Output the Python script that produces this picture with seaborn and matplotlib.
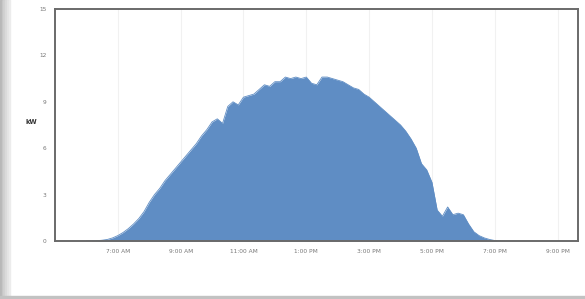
"""Daily solar production curve (kW) as a filled area
"""

import numpy as np
import pandas as pd
import matplotlib
matplotlib.use('Agg')
import matplotlib.pyplot as plt
import seaborn as sns
from matplotlib.patches import Rectangle

# Readings every 10 minutes, starting 6:00 AM
start_hour = 6.0
step_min = 10
kw = [0.0, 0.0, 0.02, 0.05, 0.1, 0.2,
      0.35, 0.55, 0.8, 1.1, 1.45, 1.9,
      2.5, 3.0, 3.4, 3.9, 4.3, 4.7,
      5.1, 5.5, 5.9, 6.3, 6.8, 7.2,
      7.7, 7.9, 7.6, 8.7, 9.0, 8.8,
      9.3, 9.4, 9.5, 9.8, 10.1, 10.0,
      10.3, 10.3, 10.6, 10.5, 10.6, 10.5,
      10.6, 10.2, 10.1, 10.6, 10.6, 10.5,
      10.4, 10.3, 10.1, 9.9, 9.8, 9.5,
      9.3, 9.0, 8.7, 8.4, 8.1, 7.8,
      7.5, 7.1, 6.6, 6.0, 5.0, 4.6,
      3.8, 2.0, 1.6, 2.2, 1.7, 1.8,
      1.7, 1.1, 0.6, 0.35, 0.2, 0.1,
      0.03, 0.0]

tick_hours = [7, 9, 11, 13, 15, 17, 19, 21]
tick_labels = ['7:00 AM', '9:00 AM', '11:00 AM', '1:00 PM',
               '3:00 PM', '5:00 PM', '7:00 PM', '9:00 PM']
y_ticks = [0, 3, 6, 9, 12, 15]

if __name__ == '__main__':

    df = pd.DataFrame({'kw': kw})
    df['hour'] = start_hour + df.index * step_min / 60.

    sns.set_style('white')
    fig = plt.figure(figsize=(5.85, 2.99), dpi=100)

    # Screenshot frame: grey shadow on the left and the bottom
    for i, c in enumerate(['#b8b8b8', '#c4c4c4', '#cfcfcf', '#dadada',
                           '#e4e4e4', '#ececec']):
        fig.patches.append(Rectangle((i * 1.7 / 585, 0), 1.7 / 585, 1,
                                     transform=fig.transFigure,
                                     color=c, zorder=0))
    fig.patches.append(Rectangle((0, 0), 1, 3.5 / 299,
                                 transform=fig.transFigure,
                                 color='#c2c2c2', zorder=0))

    ax = fig.add_axes([55 / 585, 58 / 299, 523 / 585, 232 / 299])

    color = '#5f8dc4'
    ax.fill_between(df['hour'], df['kw'], color=color, lw=0)
    sns.lineplot(data=df, x='hour', y='kw', ax=ax, color=color, lw=0.6)

    for h in tick_hours:
        ax.axvline(h, color='#f1f1f1', lw=0.8, zorder=0)

    ax.set_xlim(5.0, 21.65)
    ax.set_ylim(0, 15)
    ax.set_xticks(tick_hours)
    ax.set_xticklabels(tick_labels)
    ax.set_yticks(y_ticks)
    ax.tick_params(axis='both', labelsize=4.2, colors='#777777',
                   length=2, width=0.5, pad=4)
    ax.tick_params(axis='x', length=0, pad=6)
    ax.set_xlabel('')
    ax.set_ylabel('kW', rotation=0, fontsize=4.8, fontweight='bold',
                  color='#333333', labelpad=14)
    ax.yaxis.set_label_coords(-0.045, 0.5)

    for s in ax.spines.values():
        s.set_color('#6a6a6a')
        s.set_linewidth(1.4)

    plt.savefig('out.png', dpi=100)
